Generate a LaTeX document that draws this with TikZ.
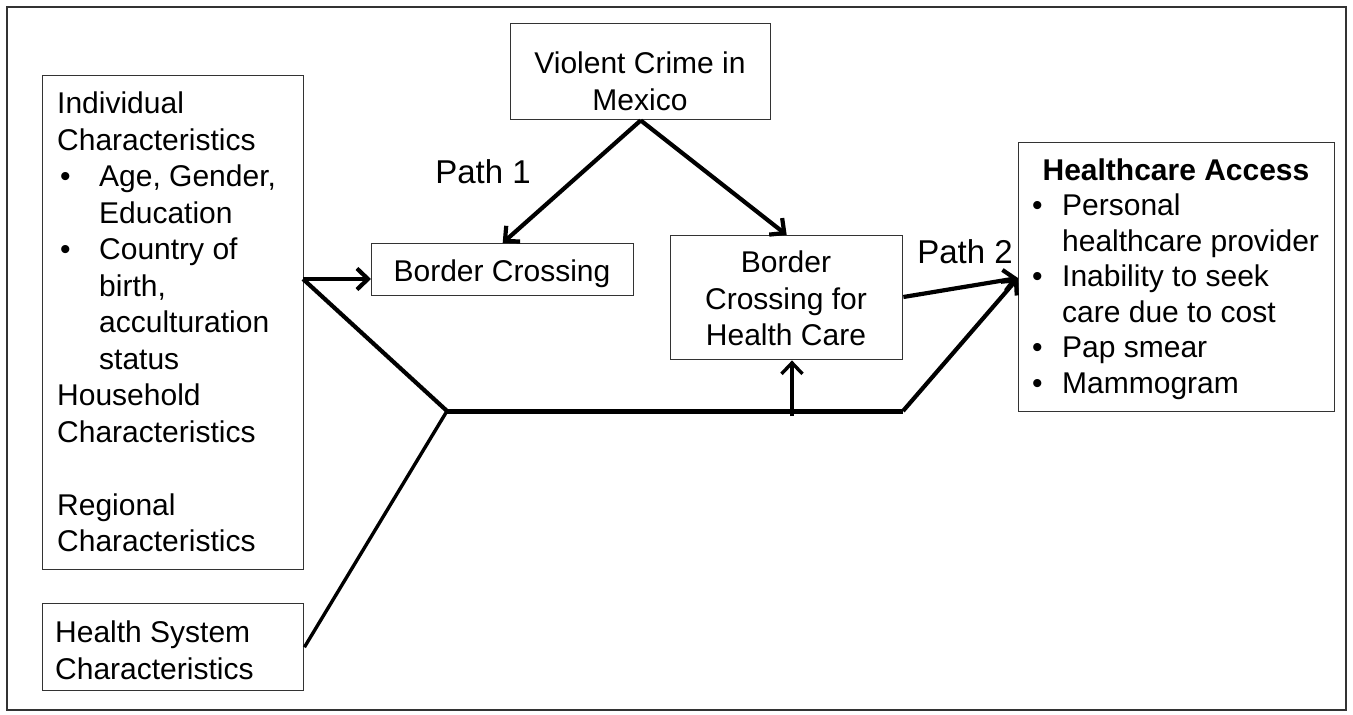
\documentclass[tikz,border=0pt]{standalone}
\usepackage{fontspec}
\setmainfont{Liberation Sans}
\usetikzlibrary{arrows.meta}
\newcommand{\diagfont}{\fontsize{30}{36.5}\selectfont}
\newcommand{\hcfont}{\fontsize{30}{35.5}\selectfont}
\newcommand{\pathfont}{\fontsize{33}{38}\selectfont}
\newcommand{\bul}{\makebox[42pt][l]{\hspace{3pt}•}}
\newcommand{\ind}{\hspace*{42pt}}
\newcommand{\hbul}{\makebox[32pt][l]{\hspace{2pt}•}}
\newcommand{\hind}{\hspace*{32pt}}
\begin{document}
\begin{tikzpicture}[x=1pt,y=-1pt,
  box/.style={draw=black!80, line width=1.4pt, rectangle, inner sep=0pt},
  txt/.style={inner sep=0pt, font=\diagfont},
  conn/.style={line width=4.2pt, black},
  thin conn/.style={line width=3.4pt, black},
  tip/.style={-{Straight Barb[length=11pt,width=21pt]}}
]
\useasboundingbox (0,0) rectangle (1353,715);
% outer frame
\draw[line width=1.4pt, black!80] (7,7) rectangle (1346,710);

% boxes
\node[box, anchor=north west, minimum width=261pt, minimum height=494pt] (ind) at (42,75) {};
\node[box, anchor=north west, minimum width=261pt, minimum height=87pt] (hs) at (42,603) {};
\node[box, anchor=north west, minimum width=260pt, minimum height=96pt] (vc) at (510,23) {};
\node[box, anchor=north west, minimum width=262pt, minimum height=52pt] (bc) at (371,243) {};
\node[box, anchor=north west, minimum width=232pt, minimum height=124pt] (bchc) at (670,235) {};
\node[box, anchor=north west, minimum width=316pt, minimum height=269pt] (hca) at (1018,142) {};

% texts
\node[txt, align=left, anchor=north west] (indtxt) at (57,92) {Individual\\Characteristics\\\bul Age, Gender,\\\ind Education\\\bul Country of\\\ind birth,\\\ind acculturation\\\ind status\\Household\\Characteristics\\[36.5pt]Regional\\Characteristics};
\node[txt, align=left, anchor=north west] (hstxt) at (55,621) {Health System\\Characteristics};
\node[txt, align=center, anchor=north] (vctxt) at (640,52) {Violent Crime in\\Mexico};
\node[txt, anchor=base] (bctxt) at (502,281) {Border Crossing};
\node[txt, align=center, anchor=north] (bchctxt) at (786,251) {Border\\Crossing for\\Health Care};
\node[txt, anchor=north] (hcahead) at (1176,159) {\bfseries Healthcare Access};
\node[txt, font=\hcfont, align=left, anchor=north west] (hcatxt) at (1030,194) {\hbul Personal\\\hind healthcare provider\\\hbul Inability to seek\\\hind care due to cost\\\hbul Pap smear\\\hbul Mammogram};
\node[txt, font=\pathfont, anchor=base] (p1) at (483,183) {Path 1};
\node[txt, font=\pathfont, anchor=base] (p2) at (965,263) {Path 2};

% connectors
\coordinate (j1) at (303,279);
\coordinate (j2) at (447,411);
\coordinate (j3) at (903,411);
\coordinate (hin) at (1018,278);
\coordinate (upfoot) at (792,416);

\draw[conn, tip] (vc.south) -- (bc.north);
\draw[conn, tip] (vc.south) -- (bchc.north);
\draw[conn, tip] (j1) -- (j1 -| bc.west);
\draw[conn] (j1) -- (j2);
\draw[thin conn] (hs.east) -- (j2);
\draw[line width=5pt, line join=miter] (j2) -- (j3);
\draw[conn, tip] (j3) -- (hin);
\draw[conn, tip] (bchc.east |- 0,297) -- (hin);
\draw[thin conn, tip] (upfoot) -- (upfoot |- bchc.south);
\end{tikzpicture}
\end{document}
